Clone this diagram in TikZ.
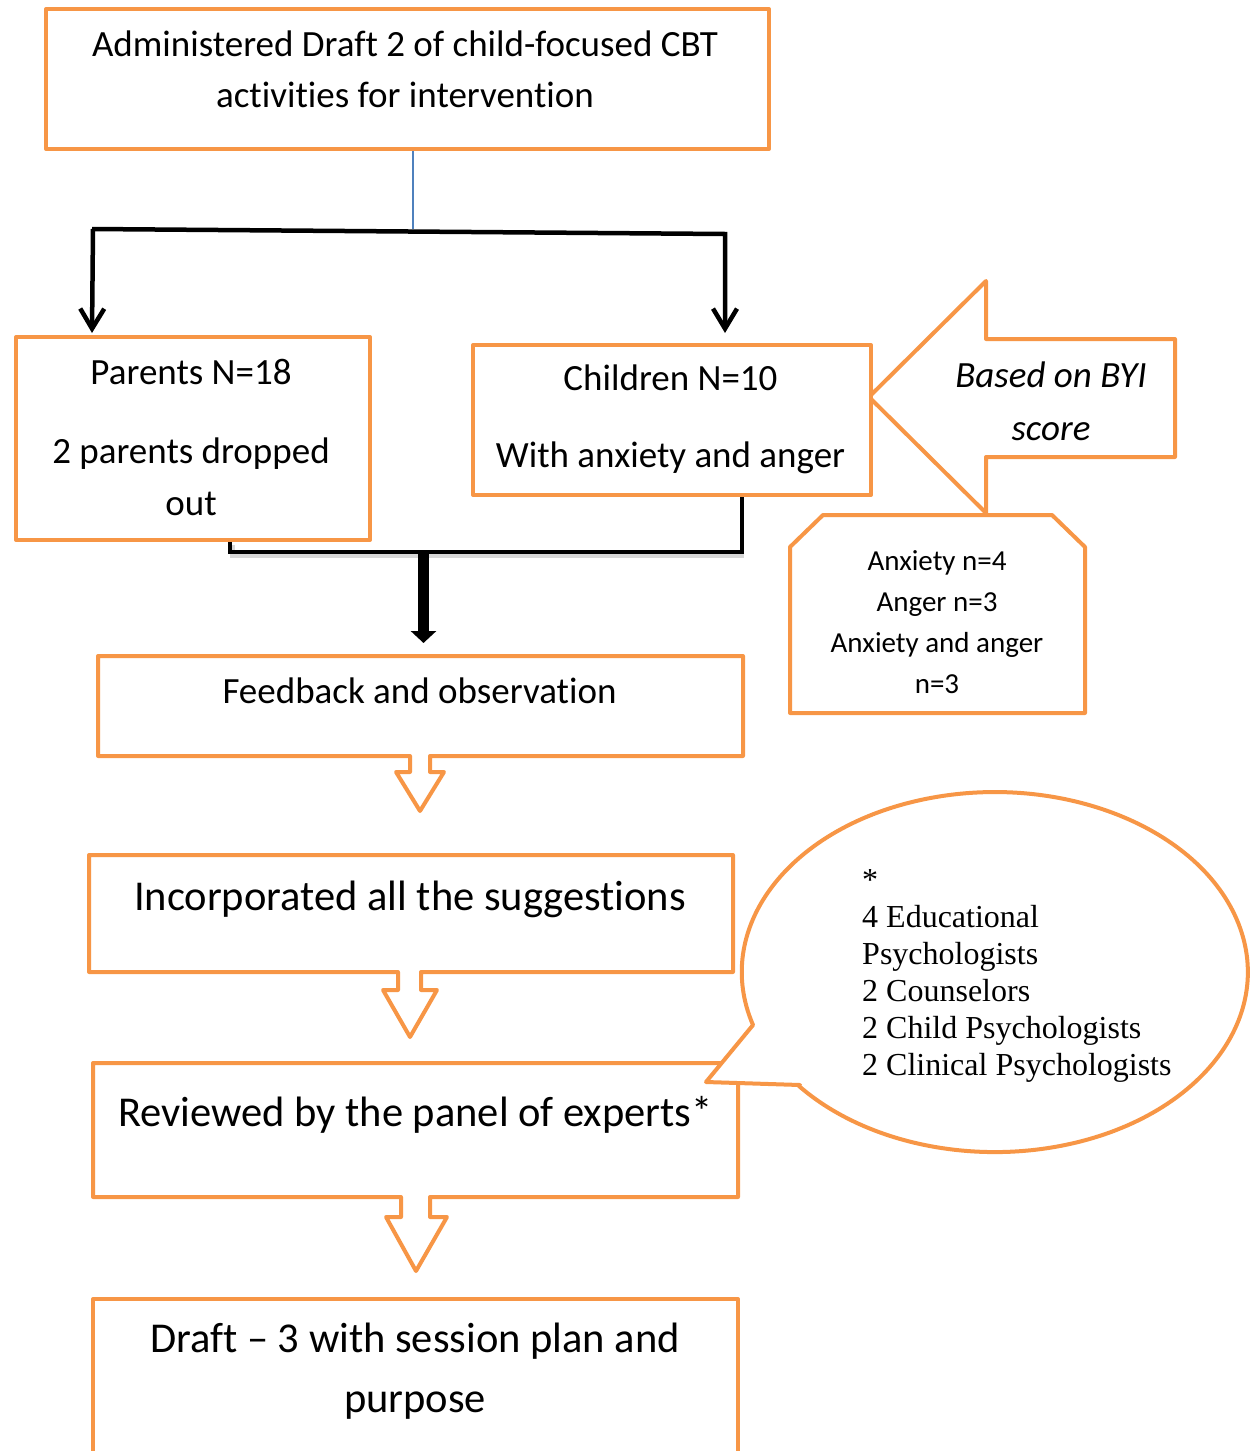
\documentclass[tikz,border=0pt]{standalone}
\usepackage{fontspec}
\setmainfont{Carlito}[Ligatures=NoCommon]
\newfontfamily\panelserif{Liberation Serif}
\usetikzlibrary{arrows.meta,calc}
\definecolor{boxorange}{HTML}{F79646}
\definecolor{linkblue}{HTML}{4F81BD}
\tikzset{
  outline/.style={draw=boxorange, line width=4pt, line join=round, fill=white},
  boxnode/.style={outline, rectangle, inner sep=0pt, anchor=north west},
  label37/.style={anchor=base, inner sep=0pt, font=\fontsize{37}{51}\selectfont},
  label42/.style={anchor=base, inner sep=0pt, font=\fontsize{42.5}{60}\selectfont},
  bracket/.style={draw=black, line width=4.5pt},
  bracketshade/.style={draw=black!35, line width=5pt, opacity=0.45},
  barb/.style={-{Straight Barb[length=20pt,width=24pt,line width=4.5pt]}},
}
\begin{document}
\begin{tikzpicture}[x=1pt,y=-1pt]
\useasboundingbox (0,0) rectangle (1258,1451);

% --- top box -------------------------------------------------------
\node[boxnode, minimum width=723pt, minimum height=140pt] (admin) at (44,7) {};
\node[label37] (admintext) at (405,56)
  {\begin{tabular}[t]{@{}c@{}}Administered Draft 2 of child-focused CBT\\activities for intervention\end{tabular}};

% --- second row boxes ---------------------------------------------
\node[boxnode, minimum width=354pt, minimum height=203pt] (parents) at (14,335) {};
\node[label37, font=\fontsize{37}{52}\selectfont] (parentstext) at (191,384)
  {\begin{tabular}[t]{@{}c@{}}Parents N=18\\[27pt]2 parents dropped\\out\end{tabular}};

% arrow callout pointing at the children box
\draw[outline] (986,339) -- (1175,339) -- (1175,457) -- (986,457) -- (986,513)
  -- (869,397) -- (986,281) -- cycle;
\node[anchor=base, inner sep=0pt, font=\fontsize{37}{53}\selectfont\itshape] (byi) at (1051,387)
  {\begin{tabular}[t]{@{}c@{}}Based on BYI\\score\end{tabular}};

\node[boxnode, minimum width=398pt, minimum height=150pt] (children) at (471,343) {};
\node[label37, font=\fontsize{37}{77}\selectfont] (childrentext) at (670.5,390)
  {\begin{tabular}[t]{@{}c@{}}Children N=10\\With anxiety and anger\end{tabular}};

% snipped-corner box with the group sizes
\draw[outline] (790,713) -- (790,547) -- (823,515) -- (1052,515) -- (1085,547)
  -- (1085,713) -- cycle;
\node[anchor=base, inner sep=0pt, font=\fontsize{29}{41.3}\selectfont] (groups) at (937,570)
  {\begin{tabular}[t]{@{}c@{}}Anxiety n=4\\Anger n=3\\Anxiety and anger\\n=3\end{tabular}};

% --- split from the top box ---------------------------------------
\coordinate (splitMid) at (413,229);
\coordinate (tipL) at (92,333);
\coordinate (tipR) at (725,333);
\draw[linkblue, line width=1.3pt] (admin.south -| splitMid) -- (splitMid);
\draw[bracket, barb] (92,229) -- (725,234) -- (tipR);
\draw[bracket, barb] (93,229) -- (tipL);

% --- merge into feedback ------------------------------------------
\coordinate (joinL) at (230,552);
\coordinate (joinR) at (742,552);
\coordinate (joinM) at (423.5,552);
\draw[bracketshade] ($(parents.south -| joinL)+(2,3)$) -- ($(joinL)+(2,3)$) -- ($(joinR)+(2,3)$);
\draw[bracket, line join=miter] (parents.south -| joinL) -- (joinL) -- (joinR) -- (children.south -| joinR);

% --- feedback box with down arrow ---------------------------------
\draw[outline] (98,656) -- (743,656) -- (743,756) -- (430,756) -- (430,772) -- (444,772)
  -- (420,811) -- (396,772) -- (410,772) -- (410,756) -- (98,756) -- cycle;
\coordinate (feedbackTop) at (420,656);
\draw[draw=black, line width=11pt, -{Triangle[length=12pt,width=25pt]}]
  (joinM) -- ($(feedbackTop -| joinM)+(0,-13)$);
\node[label37] (feedbacktext) at (419.5,703) {Feedback and observation};

% --- incorporated box ---------------------------------------------
\draw[outline] (89,855) -- (733,855) -- (733,972) -- (421,972) -- (421,990) -- (437,990)
  -- (410,1037) -- (383,990) -- (398,990) -- (398,972) -- (89,972) -- cycle;
\node[label42] (incorp) at (410,910) {Incorporated all the suggestions};

% --- reviewed box -------------------------------------------------
\draw[outline] (93,1063) -- (738,1063) -- (738,1197) -- (430,1197) -- (430,1217) -- (447,1217)
  -- (416,1271) -- (386,1217) -- (401,1217) -- (401,1197) -- (93,1197) -- cycle;
\node[label42] (reviewed) at (415.5,1126) {Reviewed by the panel of experts*};

% speech bubble listing the panel
\draw[outline] (800,1085) -- (706,1082) -- (753,1025)
  arc[start angle=162.9, end angle=500.8, x radius=253, y radius=180] -- cycle;
\node[anchor=base west, inner sep=0pt, font=\panelserif\fontsize{32}{37}\selectfont] (panel) at (862,890)
  {\begin{tabular}[t]{@{}l@{}}*\\4 Educational\\Psychologists\\2 Counselors\\2 Child Psychologists\\2 Clinical Psychologists\end{tabular}};

% --- final draft box (runs past the lower edge) -------------------
\draw[outline, fill=none] (93,1470) -- (93,1299) -- (738,1299) -- (738,1470);
\node[label42] (draft) at (415,1352)
  {\begin{tabular}[t]{@{}c@{}}Draft -- 3 with session plan and\\purpose\end{tabular}};
\end{tikzpicture}
\end{document}
